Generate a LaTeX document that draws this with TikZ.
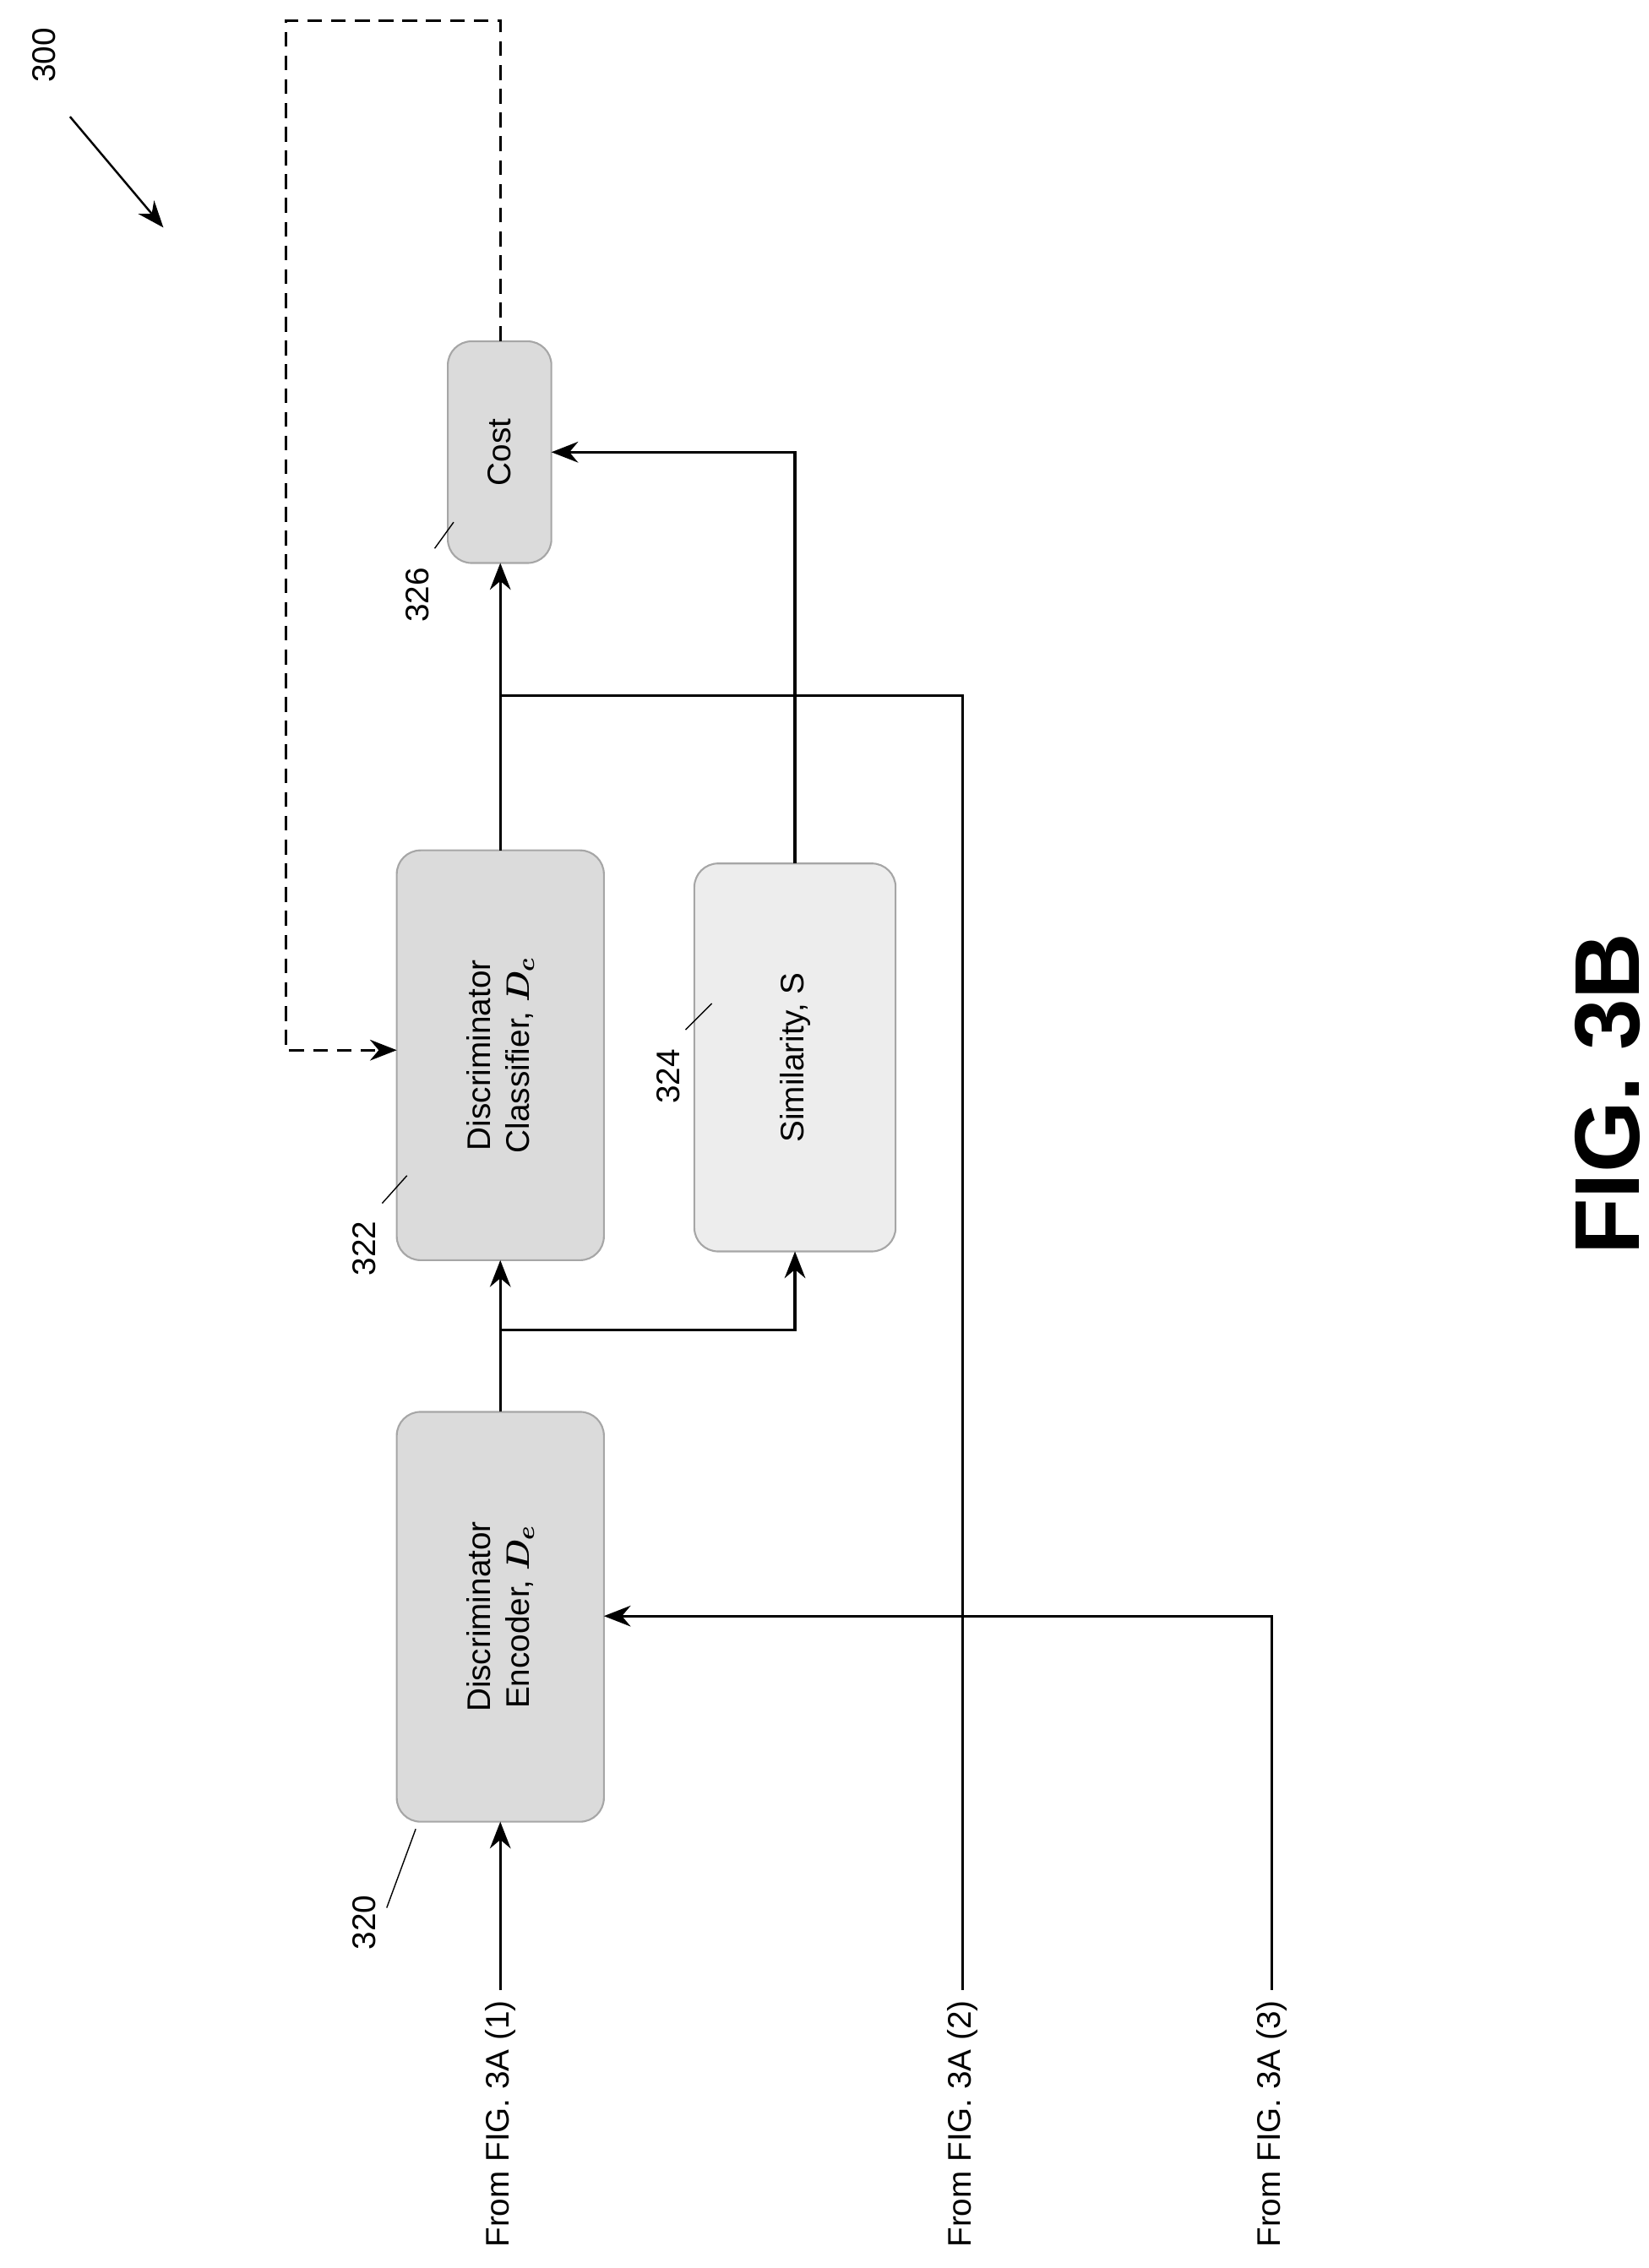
\documentclass[tikz,border=0pt]{standalone}
\usepackage{amsmath,amssymb}
\usepackage{fontspec}
\setmainfont{Liberation Sans}
\usetikzlibrary{positioning,arrows.meta}
\tikzset{
  blk/.style = {draw=gray!70, fill=gray!28, rounded corners=8pt, line width=0.6pt},
  lbl/.style = {rotate=90, font=\fontsize{11}{13}\selectfont, align=center},
  wire/.style = {line width=0.9pt},
  arr/.style = {wire, -{Stealth[length=9pt,width=7pt]}}
}
\begin{document}
\begin{tikzpicture}[x=0.01726cm, y=-0.01726cm]
\useasboundingbox (0,0) rectangle (1130,1555);
% blocks
\draw[blk] (272,968) rectangle (414,1249);
\node[lbl] (enc) at (343,1108.5) {Discriminator\\Encoder, $\boldsymbol{D_e}$};
\draw[blk] (272,583) rectangle (414,864);
\node[lbl] (cls) at (343,723.5) {Discriminator\\Classifier, $\boldsymbol{D_c}$};
\draw[blk, fill=gray!14] (476,592) rectangle (614,858);
\node[lbl] (sim) at (545,725) {Similarity, S};
\draw[blk] (307,234) rectangle (378,386);
\node[lbl] (cost) at (342.5,310) {Cost};
% inputs
\node[lbl, anchor=west] (in1) at (343,1548) {From FIG. 3A (1)};
\node[lbl, anchor=west] (in2) at (660,1548) {From FIG. 3A (2)};
\node[lbl, anchor=west] (in3) at (872,1548) {From FIG. 3A (3)};
% connectors
\draw[arr] (in1.east) -- (343,1249);
\draw[wire] (in2.east) -- (660,477) -- (343,477);
\draw[arr] (in3.east) -- (872,1108) -- (414,1108);
\draw[arr] (343,968) -- (343,864);
\draw[arr] (343,912) -- (545,912) -- (545,858);
\draw[arr] (343,583) -- (343,386);
\draw[arr] (545,592) -- (545,310) -- (378,310);
\draw[arr, dashed, dash pattern=on 5pt off 3pt] (343,234) -- (343,14) -- (196,14) -- (196,720) -- (272,720);
% reference numerals
\node[lbl] (n320) at (250,1318) {320};
\draw (n320.south) ++(0,-10) -- (285,1254);
\node[lbl] (n322) at (250,856) {322};
\draw (262,825) -- (279,806);
\node[lbl] (n324) at (458,738) {324};
\draw (470,706) -- (488,688);
\node[lbl] (n326) at (286,408) {326};
\draw (298,376) -- (311,358);
\node[lbl] (n300) at (30,38) {300};
\draw[arr, line width=0.7pt] (48,80) -- (112,156);
\node[rotate=90, font=\bfseries\fontsize{31}{36}\selectfont] (fig) at (1102,750) {FIG. 3B};
\end{tikzpicture}
\end{document}
